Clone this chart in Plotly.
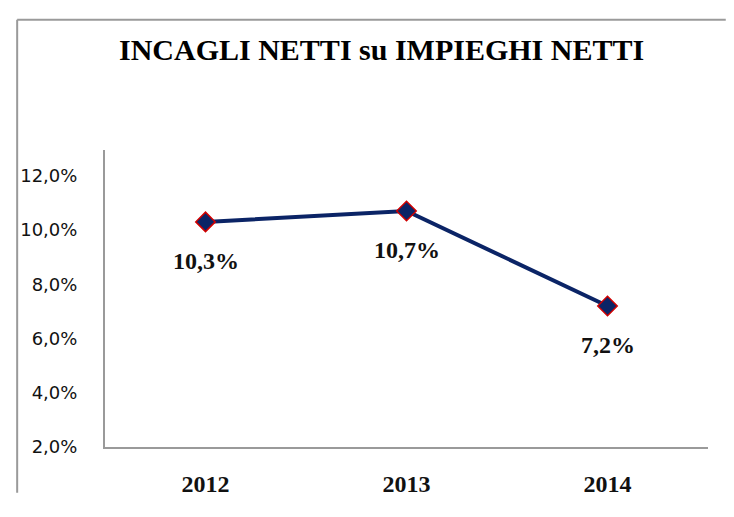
import plotly.graph_objects as go

years = ["2012", "2013", "2014"]
values = [10.3, 10.7, 7.2]
labels = ["10,3%", "10,7%", "7,2%"]
y_ticks = [2, 4, 6, 8, 10, 12]
y_tick_text = ["2,0%", "4,0%", "6,0%", "8,0%", "10,0%", "12,0%"]
title_text = "INCAGLI NETTI su IMPIEGHI NETTI"

OFF = 8  # page body margin
W, H = 734 - 2 * OFF, 517 - 2 * OFF
# plot area in page pixels: x 97..708, y 150..461
L, T = 97 - OFF, 150 - OFF
R, B = W - (708 - OFF), H - (461 - OFF)
pw, ph = W - L - R, H - T - B

fig = go.Figure()
fig.add_trace(go.Scatter(
    x=[0, 1, 2], y=values, mode="lines+markers",
    line=dict(color="#0b2466", width=4),
    marker=dict(symbol="diamond", size=15, color="#0b2466",
                line=dict(color="#d00000", width=1.5)),
    hoverinfo="skip", showlegend=False,
))

for i, (v, t) in enumerate(zip(values, labels)):
    fig.add_annotation(x=i, y=v, text=f"<b>{t}</b>", showarrow=False,
                       yshift=-39, xanchor="center", yanchor="middle",
                       font=dict(family="Liberation Serif", size=24, color="#111"))

# outer chart border: only left and top edges are visible in the page
bx0 = (8 - 97) / pw
by1 = (461 - 13.5) / ph
fig.add_shape(type="line", xref="paper", yref="paper",
              x0=bx0, x1=(W - L) / pw, y0=by1, y1=by1,
              line=dict(color="#9a9a9a", width=2), layer="below")
fig.add_shape(type="line", xref="paper", yref="paper",
              x0=bx0, x1=bx0, y0=-B / ph, y1=by1,
              line=dict(color="#9a9a9a", width=2), layer="below")

fig.add_annotation(xref="paper", yref="paper", x=(377 - 97) / pw, y=(461 - 45) / ph,
                   text=f"<b>{title_text}</b>", showarrow=False,
                   xanchor="center", yanchor="middle",
                   font=dict(family="Liberation Serif", size=30, color="#000"))

fig.update_layout(
    width=W, height=H,
    margin=dict(l=L, r=R, t=T, b=B),
    paper_bgcolor="white", plot_bgcolor="white",
    xaxis=dict(range=[-0.5, 2.5], tickvals=[0, 1, 2],
               ticktext=[f"<b>{y}</b>" for y in years],
               showgrid=False, zeroline=False, showline=True,
               linecolor="#9a9a9a", linewidth=2, ticks="",
               ticklabelstandoff=14,
               tickfont=dict(family="Liberation Serif", size=24, color="#111")),
    yaxis=dict(range=[2, 12.95], tickvals=y_ticks, ticktext=y_tick_text,
               showgrid=False, zeroline=False, showline=True,
               linecolor="#9a9a9a", linewidth=2, ticks="",
               ticklabelstandoff=22,
               tickfont=dict(family="DejaVu Sans", size=18, color="#111")),
)

fig.write_html("out.html")
